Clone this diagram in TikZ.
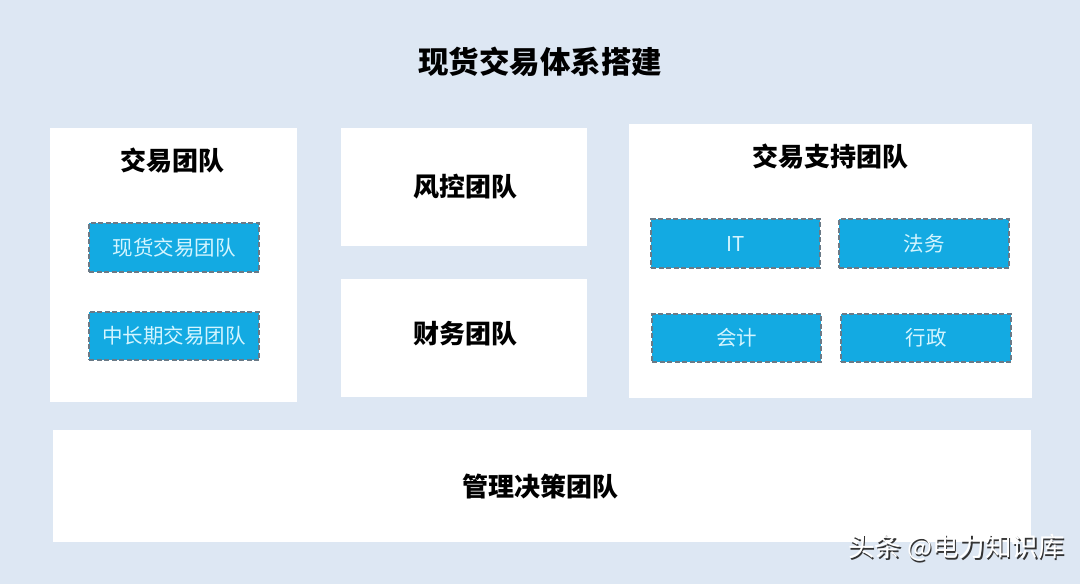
\documentclass[tikz,border=0pt]{standalone}
\usepackage{fontspec}
\setmainfont{Noto Sans CJK SC}
\definecolor{bgblue}{HTML}{DDE7F3}
\definecolor{boxblue}{HTML}{13AAE2}
\definecolor{dashgray}{HTML}{6A7A87}
\definecolor{lighttext}{HTML}{D4F5FF}
\tikzset{
  panel/.style={fill=white, draw=none, inner sep=0pt},
  paneltitle/.style={font=\fontsize{26}{30}\selectfont\bfseries, text=black, inner sep=0pt},
  subbox/.style={fill=boxblue, draw=dashgray, line width=2.4pt, dash pattern=on 5pt off 2.5pt,
    preaction={draw=white, solid, line width=2.4pt},
    minimum width=170pt, minimum height=48pt, inner sep=0pt,
    text=lighttext, font=\fontsize{20.5}{24}\selectfont}
}
\begin{document}
\begin{tikzpicture}[x=1pt,y=-1pt]
\fill[bgblue] (0,0) rectangle (1080,584);
\useasboundingbox (0,0) rectangle (1080,584);
\node[font=\fontsize{30.5}{36}\selectfont\bfseries, inner sep=0pt] (title) at (540,62) {现货交易体系搭建};
% panels
\node[panel, minimum width=247pt, minimum height=274pt] (trade) at (173.5,265) {};
\node[paneltitle] (tradet) at (172,161) {交易团队};
\node[panel, minimum width=246pt, minimum height=118pt] (risk) at (464,187) {};
\node[paneltitle] (riskt) at (465,187) {风控团队};
\node[panel, minimum width=246pt, minimum height=118pt] (fin) at (464,338) {};
\node[paneltitle] (fint) at (465,334) {财务团队};
\node[panel, minimum width=403pt, minimum height=274pt] (supp) at (830,260.5) {};
\node[paneltitle] (suppt) at (830,157) {交易支持团队};
\node[panel, minimum width=978pt, minimum height=112pt] (mgmt) at (542,486) {};
\node[paneltitle] (mgmtt) at (540,487) {管理决策团队};
% sub boxes
\node[subbox, minimum height=49pt] (spot) at (174,247.5) {现货交易团队};
\node[subbox] (mid) at (174,336) {中长期交易团队};
\node[subbox, minimum width=169pt, minimum height=49pt] (it) at (735.5,243.5) {IT};
\node[subbox, minimum height=49pt] (law) at (924,243.5) {法务};
\node[subbox, minimum width=169pt] (acc) at (736.5,338) {会计};
\node[subbox] (adm) at (926,338) {行政};
% watermark
\node[font=\fontsize{26.5}{30}\selectfont, text=black!80, anchor=east, inner sep=0pt] (wmshadow) at (1066.3,549.3) {头条 @电力知识库};
\node[font=\fontsize{26.5}{30}\selectfont, text=white, anchor=east, inner sep=0pt] (wm) at (1065,548) {头条 @电力知识库};
\end{tikzpicture}
\end{document}
